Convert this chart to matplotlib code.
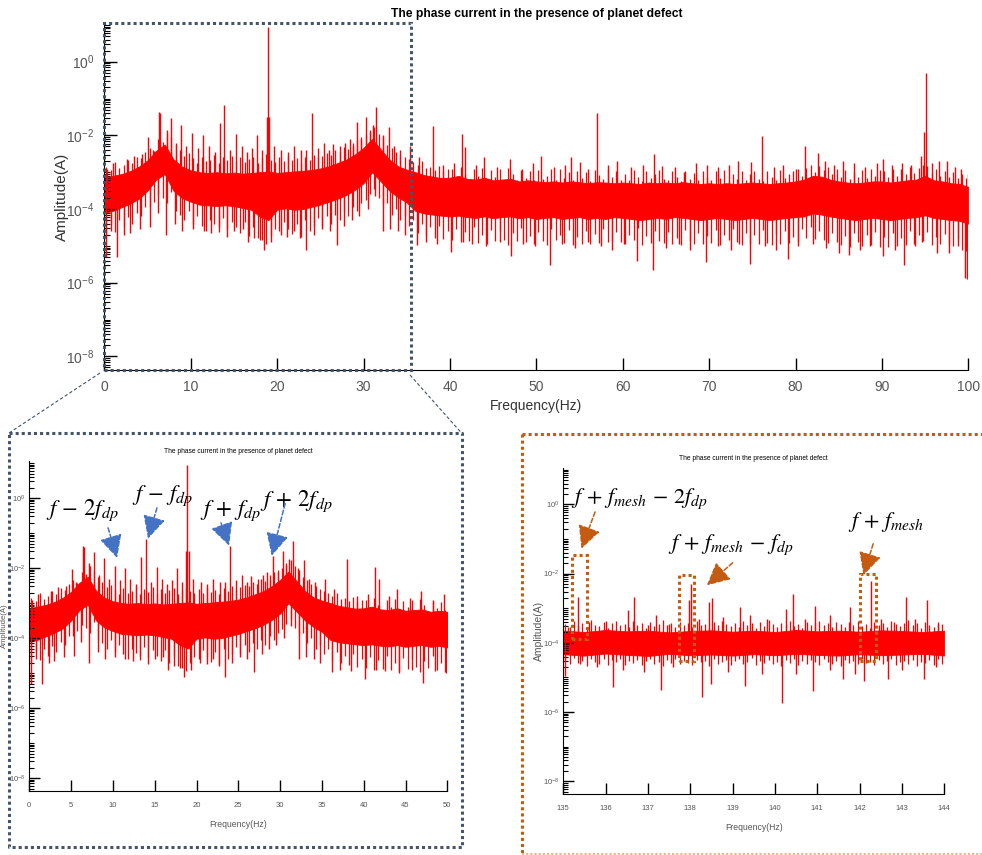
import numpy as np
import matplotlib.pyplot as plt
from matplotlib.patches import Rectangle
from matplotlib.lines import Line2D
from matplotlib.ticker import FixedLocator, LogLocator, NullFormatter, FuncFormatter

plt.rcParams['mathtext.fontset'] = 'stix'

SANS = ['Liberation Sans', 'DejaVu Sans']

# ---------------------------------------------------------------
# spectrum 0-100 Hz, values are log10(amplitude)
# dense core of the noise, one value per Hz
grid_f = np.arange(0, 101)
band_hi = [-3.15, -3.10, -3.05, -2.97, -2.85, -2.68, -2.42, -2.25, -2.65, -2.85,
           -2.95, -3.00, -3.02, -3.00, -3.03, -3.01, -3.04, -3.02, -3.00, -2.98,
           -3.02, -3.00, -2.98, -2.96, -2.94, -2.90, -2.84, -2.75, -2.66, -2.52,
           -2.34, -2.10, -2.38, -2.66, -2.84, -2.93, -3.00, -3.08, -3.12, -3.16,
           -3.15, -3.10, -3.18, -3.20, -3.15, -3.22, -3.20, -3.18, -3.25, -3.22,
           -3.25, -3.27, -3.25, -3.28, -3.25, -3.27, -3.30, -3.27, -3.28, -3.30,
           -3.28, -3.30, -3.32, -3.28, -3.30, -3.28, -3.30, -3.27, -3.30, -3.32,
           -3.30, -3.32, -3.30, -3.32, -3.30, -3.28, -3.30, -3.32, -3.30, -3.28,
           -3.25, -3.20, -3.10, -3.12, -3.20, -3.25, -3.28, -3.30, -3.28, -3.25,
           -3.25, -3.28, -3.25, -3.22, -3.20, -3.10, -3.22, -3.25, -3.30, -3.32,
           -3.40]
band_lo = [-4.10, -4.05, -3.95, -3.85, -3.72, -3.50, -3.20, -3.05, -3.50, -3.70,
           -3.80, -3.88, -3.90, -3.92, -3.90, -3.92, -3.97, -4.02, -4.20, -4.30,
           -4.02, -3.98, -4.02, -4.00, -3.94, -3.88, -3.80, -3.72, -3.62, -3.48,
           -3.30, -3.00, -3.25, -3.50, -3.68, -3.82, -4.05, -4.12, -4.15, -4.18,
           -4.20, -4.18, -4.22, -4.24, -4.20, -4.25, -4.22, -4.20, -4.25, -4.22,
           -4.27, -4.24, -4.22, -4.27, -4.24, -4.22, -4.27, -4.24, -4.27, -4.22,
           -4.24, -4.27, -4.30, -4.27, -4.24, -4.27, -4.22, -4.24, -4.27, -4.30,
           -4.27, -4.24, -4.27, -4.30, -4.27, -4.24, -4.27, -4.30, -4.27, -4.24,
           -4.22, -4.20, -4.12, -4.15, -4.20, -4.24, -4.27, -4.30, -4.27, -4.24,
           -4.27, -4.30, -4.27, -4.24, -4.22, -4.17, -4.24, -4.27, -4.30, -4.32,
           -4.40]
# max / min of the trace in 0.5 Hz bins (bin centres 0.25, 0.75, ...)
hair_f = np.arange(0.25, 100, 0.5)
hair_up = [-2.85, -2.95, -2.72, -2.88, -2.80, -2.66, -2.75, -2.58, -2.62, -2.45,
           -2.35, -2.42, -2.10, -2.18, -1.95, -2.05, -2.25, -2.40, -2.55, -2.48,
           -2.62, -2.75, -2.58, -2.70, -2.66, -2.52, -2.74, -2.60, -2.68, -2.55,
           -2.70, -2.60, -2.72, -2.64, -2.58, -2.75, -2.62, -2.50, -2.66, -2.72,
           -2.60, -2.70, -2.55, -2.68, -2.62, -2.74, -2.58, -2.66, -2.52, -2.60,
           -2.55, -2.48, -2.52, -2.40, -2.45, -2.32, -2.38, -2.20, -2.12, -2.05,
           -2.00, -1.85, -1.78, -1.95, -2.05, -2.25, -2.35, -2.45, -2.52, -2.60,
           -2.65, -2.72, -2.80, -2.70, -2.88, -2.85, -2.95, -2.82, -2.98, -2.90,
           -2.92, -3.15, -2.85, -3.05, -3.20, -2.90, -3.10, -2.88, -3.18, -2.95,
           -3.12, -2.92, -3.20, -2.88, -3.06, -3.22, -2.95, -3.15, -2.98, -3.20,
           -2.95, -3.18, -3.10, -2.90, -3.22, -2.92, -3.15, -3.00, -3.20, -2.96,
           -3.16, -3.00, -3.24, -2.94, -3.08, -3.18, -2.92, -3.14, -2.98, -3.22,
           -3.04, -3.20, -2.95, -3.12, -3.24, -2.98, -3.16, -3.06, -2.94, -3.18,
           -3.20, -2.98, -3.14, -3.24, -2.96, -3.18, -3.02, -3.22, -2.98, -3.12,
           -3.22, -2.98, -3.16, -2.95, -3.24, -3.04, -3.18, -2.96, -3.22, -3.06,
           -2.98, -3.18, -3.24, -2.96, -3.12, -3.22, -2.94, -3.16, -3.04, -2.96,
           -2.92, -3.10, -2.88, -2.80, -3.00, -2.82, -2.95, -2.86, -3.05, -2.90,
           -3.12, -2.95, -3.18, -3.00, -3.14, -2.94, -3.16, -2.92, -3.10, -2.94,
           -2.98, -3.14, -2.92, -3.10, -2.90, -3.05, -2.85, -3.02, -2.88, -2.80,
           -2.82, -3.02, -2.90, -3.10, -2.96, -3.12, -3.00, -3.15, -3.05, -3.15]
hair_dn = [-4.75, -4.40, -4.62, -4.30, -4.50, -4.22, -4.40, -4.10, -4.20, -3.95,
           -3.95, -3.80, -3.62, -3.70, -3.85, -3.55, -4.05, -4.15, -4.30, -4.05,
           -4.40, -4.20, -4.45, -4.60, -4.30, -4.42, -4.62, -4.25, -4.55, -4.35,
           -4.50, -4.65, -4.35, -4.72, -4.50, -4.80, -4.85, -4.95, -4.70, -4.55,
           -4.60, -4.35, -4.55, -4.68, -4.40, -4.75, -4.30, -4.60, -4.45, -4.25,
           -4.45, -4.20, -4.40, -4.15, -4.30, -4.05, -4.20, -3.95, -4.05, -3.85,
           -3.75, -3.60, -3.45, -3.70, -3.90, -3.85, -4.15, -4.00, -4.30, -4.20,
           -4.45, -4.30, -4.65, -4.40, -4.72, -4.50, -4.78, -4.45, -4.82, -4.60,
           -4.85, -4.55, -4.90, -4.62, -4.88, -4.50, -4.92, -4.70, -4.95, -4.58,
           -4.88, -4.60, -4.84, -4.98, -4.66, -4.86, -4.52, -4.90, -4.72, -4.96,
           -4.62, -4.86, -4.98, -4.55, -4.84, -4.70, -4.93, -4.58, -4.99, -4.75,
           -4.94, -4.60, -4.96, -4.68, -4.92, -4.55, -4.90, -4.86, -4.62, -4.89,
           -4.96, -4.70, -4.85, -4.52, -4.99, -4.74, -4.92, -4.60, -4.86, -4.93,
           -4.62, -4.95, -4.78, -4.98, -4.56, -4.86, -4.96, -4.66, -4.94, -4.72,
           -4.93, -4.58, -4.97, -4.71, -4.85, -4.54, -4.90, -4.98, -4.64, -4.94,
           -4.70, -4.96, -4.56, -4.93, -4.99, -4.69, -4.95, -4.60, -4.92, -4.77,
           -4.90, -4.54, -4.80, -4.50, -4.82, -4.60, -4.85, -4.92, -4.66, -4.90,
           -4.98, -4.72, -5.02, -4.65, -4.90, -5.00, -4.70, -4.98, -4.62, -5.02,
           -4.76, -5.02, -4.64, -5.00, -4.80, -4.98, -4.60, -4.95, -4.70, -4.88,
           -4.62, -4.98, -4.75, -4.96, -4.68, -4.95, -5.00, -4.82, -5.10, -5.15]
# isolated spikes and dips
peak_f = [0.3, 1.0, 2.6, 3.4, 4.4, 5.06, 5.6, 6.37, 6.49, 7.2, 7.72, 8.3, 8.88, 9.5,
          10.2, 10.8, 11.4, 12.1, 12.8, 13.4, 13.9, 14.6, 15.25, 15.9, 16.5, 17.1,
          17.7, 18.3, 18.8, 18.9, 19.1, 19.6, 20.5, 21.3, 22.0, 22.8, 23.4, 24.0,
          24.7, 25.4, 26.0, 26.5, 27.3, 27.9, 28.4, 28.8, 29.2, 29.7, 30.3, 30.7,
          31.1, 31.5, 32.2, 32.9, 33.5, 34.2, 35.4, 36.4,
          38.0, 39.2, 40.5, 41.4, 41.8, 43.0, 44.0, 45.5, 46.9, 48.3, 49.6, 50.5,
          52.0, 53.3, 54.0, 55.1, 56.0, 57.0, 58.3, 59.3, 61.0, 62.4, 63.6, 64.6,
          66.0, 67.1, 68.5, 69.7, 71.0, 72.3, 73.3, 74.8, 76.1, 77.5, 78.6, 80.0,
          81.1, 82.6, 83.4, 84.5, 85.5, 86.8, 88.0, 89.4, 90.1, 91.2, 92.3, 93.4,
          94.5, 94.9, 95.1, 95.8, 96.6, 97.5, 98.5, 99.2, 100.0]
peak_a = [-2.90, -2.75, -2.65, -2.55, -2.50, -2.04, -2.40, -1.37, -1.39, -1.85, -1.53,
          -2.20, -1.72, -2.30, -1.94, -2.35, -2.00, -2.30, -2.45, -1.67, -1.18, -2.40,
          -1.96, -2.30, -2.45, -2.35, -1.99, -2.40, -1.50, 0.95, -1.50, -2.30, -2.40,
          -2.45, -2.30, -2.40, -2.40, -1.38, -2.35, -2.20, -2.40, -2.23, -2.30, -2.20,
          -2.10, -2.30, -1.65, -2.10, -1.50, -1.90, -1.73, -1.23, -2.00, -1.76, -2.30,
          -2.40, -2.30, -2.60,
          -1.75, -2.80, -2.75, -1.96, -2.32, -2.80, -2.60, -2.85, -2.65, -2.90, -2.75,
          -2.56, -2.85, -2.80, -2.60, -2.72, -2.90, -1.38, -2.80, -2.70, -2.85, -2.80,
          -2.50, -2.83, -2.85, -3.00, -2.75, -2.80, -2.85, -2.80, -2.70, -2.72, -2.02,
          -2.85, -2.80, -2.90, -2.29, -2.49, -2.70, -2.80, -2.70, -2.75, -2.85, -2.76,
          -2.63, -2.80, -2.75, -2.80, -2.55, -1.90, -0.31, -2.75, -2.70, -2.70, -2.85,
          -2.90, -3.04]
dip_f = [0.2, 0.8, 1.5, 2.3, 3.0, 4.1, 5.3, 6.2, 7.1, 8.2, 9.0, 10.3, 11.5, 12.4, 13.3,
         14.2, 15.0, 16.0, 16.6, 17.3, 18.0, 18.5, 19.3, 20.4, 21.2, 22.0, 22.7, 23.4,
         24.3, 25.2, 26.1, 26.9, 27.8, 28.7, 29.5, 30.5, 31.3, 32.3, 33.1, 34.0, 34.8,
         36.2, 37.2, 38.5, 40.1, 41.5, 42.6, 44.2, 45.8, 47.1, 48.5, 49.8, 51.6, 53.0,
         54.5, 56.0, 57.5, 58.8, 60.2, 61.7, 63.5, 65.0, 66.5, 67.8, 69.6, 71.0, 72.5,
         73.5, 74.7, 76.5, 77.8, 79.1, 80.3, 82.0, 83.5, 85.0, 86.2, 87.5, 88.6, 90.1,
         91.5, 92.6, 93.8, 94.6, 96.4, 97.8, 98.8, 99.6, 99.9]
dip_a = [-5.30, -4.60, -5.30, -4.70, -4.65, -4.55, -4.50, -4.10, -4.70, -4.40, -4.60,
         -4.55, -4.60, -4.65, -4.50, -4.75, -4.60, -4.55, -4.90, -4.80, -4.85, -5.12,
         -4.90, -4.70, -4.75, -4.60, -4.80, -5.10, -4.70, -4.55, -4.60, -4.97, -4.45,
         -4.30, -4.20, -4.00, -3.65, -4.60, -4.55, -4.60, -4.70,
         -4.97, -4.90, -4.95, -5.18, -4.90, -4.95, -5.00, -4.90, -5.28, -4.95, -5.00,
         -5.52, -4.95, -5.05, -4.90, -5.00, -5.10, -4.95, -5.41, -5.66, -5.05, -4.95,
         -5.10, -5.43, -5.00, -5.10, -4.95, -5.50, -5.00, -5.10, -5.36, -5.00, -4.95,
         -5.05, -5.20, -5.25, -5.10, -5.00, -5.28, -5.10, -5.52, -5.00, -4.90, -5.20,
         -5.20, -5.00, -5.88, -5.90]

# spectrum 135-144 Hz
zgrid_f = np.arange(135, 144.01, 0.5)
zband_hi = [-3.65, -3.69, -3.63, -3.67, -3.65, -3.70, -3.66, -3.64, -3.68, -3.65,
            -3.69, -3.63, -3.67, -3.65, -3.68, -3.64, -3.66, -3.69, -3.65]
zband_lo = [-4.33, -4.37, -4.31, -4.35, -4.38, -4.32, -4.36, -4.34, -4.37, -4.33,
            -4.36, -4.32, -4.35, -4.37, -4.33, -4.36, -4.34, -4.32, -4.37]
zhair_f = np.arange(135.05, 144, 0.1)
zhair_up = [-3.45, -3.55, -3.38, -3.50, -3.42, -3.58, -3.35, -3.48, -3.52, -3.40,
            -3.56, -3.44, -3.36, -3.50, -3.46, -3.54, -3.38, -3.48, -3.42, -3.57,
            -3.40, -3.52, -3.46, -3.34, -3.50, -3.44, -3.55, -3.39, -3.48, -3.42,
            -3.53, -3.37, -3.49, -3.45, -3.56, -3.41, -3.50, -3.36, -3.47, -3.52,
            -3.43, -3.55, -3.38, -3.49, -3.44, -3.57, -3.40, -3.51, -3.35, -3.46,
            -3.54, -3.42, -3.48, -3.38, -3.52, -3.45, -3.56, -3.40, -3.49, -3.43,
            -3.36, -3.50, -3.44, -3.55, -3.39, -3.47, -3.53, -3.41, -3.48, -3.37,
            -3.51, -3.45, -3.56, -3.40, -3.49, -3.43, -3.54, -3.38, -3.47, -3.52,
            -3.42, -3.35, -3.50, -3.44, -3.56, -3.40, -3.48, -3.53, -3.39, -3.46]
zhair_dn = [-4.50, -4.62, -4.45, -4.58, -4.52, -4.66, -4.48, -4.55, -4.60, -4.46,
            -4.64, -4.51, -4.57, -4.47, -4.63, -4.53, -4.59, -4.49, -4.65, -4.54,
            -4.48, -4.61, -4.56, -4.67, -4.50, -4.58, -4.46, -4.62, -4.53, -4.59,
            -4.64, -4.49, -4.57, -4.52, -4.66, -4.47, -4.60, -4.55, -4.50, -4.63,
            -4.54, -4.48, -4.61, -4.57, -4.45, -4.65, -4.52, -4.59, -4.49, -4.62,
            -4.56, -4.67, -4.51, -4.58, -4.47, -4.63, -4.54, -4.60, -4.50, -4.57,
            -4.64, -4.48, -4.55, -4.61, -4.52, -4.66, -4.49, -4.58, -4.53, -4.62,
            -4.47, -4.59, -4.56, -4.65, -4.50, -4.60, -4.54, -4.48, -4.63, -4.57,
            -4.52, -4.61, -4.49, -4.66, -4.55, -4.58, -4.51, -4.64, -4.47, -4.60]
zpeak_f = [135.1, 135.34, 135.6, 136.0, 136.54, 136.67, 137.0, 137.2, 137.5, 137.98,
           138.02, 138.2, 138.44, 138.52, 138.77, 139.17, 139.4, 139.8, 140.26, 140.42,
           140.7, 140.94, 141.3, 141.77, 142.27, 142.5, 142.8, 143.09, 143.3, 143.6,
           143.85]
zpeak_a = [-3.55, -2.68, -3.40, -3.36, -3.04, -2.68, -3.50, -3.20, -3.45, -2.77,
           -2.31, -3.30, -2.82, -2.72, -3.25, -2.97, -3.20, -3.30, -3.01, -2.60,
           -3.30, -2.94, -3.20, -2.97, -2.22, -3.30, -3.40, -2.69, -3.30, -2.76,
           -3.45]
zdip_f = [135.05, 135.4, 135.8, 136.17, 136.4, 136.9, 137.3, 137.6, 138.27, 138.5,
          138.9, 139.3, 139.7, 140.16, 140.5, 140.9, 141.3, 141.6, 141.9, 142.1,
          142.66, 143.0, 143.52, 143.8]
zdip_a = [-4.95, -4.60, -4.70, -5.28, -4.80, -4.85, -5.37, -4.70, -5.57, -5.20,
          -4.85, -5.25, -4.90, -5.73, -4.90, -5.40, -4.80, -5.05, -4.90, -5.10,
          -5.05, -4.80, -5.05, -4.70]

title = 'The phase current in the presence of planet defect'
ylims = (10 ** -8.37, 10 ** 1.05)
red = '#FF0000'
slate = '#44546A'
orange = '#C55A11'
blue = '#4472C4'

W, H = 982, 855
fig = plt.figure(figsize=(W / 100, H / 100), dpi=100)


def px_axes(x0, y0, x1, y1):
    return fig.add_axes([x0 / W, 1 - y1 / H, (x1 - x0) / W, (y1 - y0) / H])


def draw_spectrum(ax, gf, hi, lo, hf, hu, hd, pf, pa, df, da):
    hi = np.array(hi)
    lo = np.array(lo)
    step = gf[1] - gf[0]
    ax.fill_between(gf, 10 ** lo, 10 ** hi, color=red, lw=0.6, edgecolor=red)
    ax.vlines(hf, 10 ** np.array(hd), 10 ** np.array(hu), color=red, lw=0.9)
    mid = (hi + lo) / 2
    i = np.clip(np.rint((np.array(pf) - gf[0]) / step).astype(int), 0, len(gf) - 1)
    ax.vlines(pf, 10 ** mid[i], 10 ** np.array(pa), color=red, lw=1.0)
    i = np.clip(np.rint((np.array(df) - gf[0]) / step).astype(int), 0, len(gf) - 1)
    ax.vlines(df, 10 ** np.array(da), 10 ** mid[i], color=red, lw=1.0)


def style(ax, xticks, fs, tick_len, xpad, ypad):
    ax.set_yscale('log')
    ax.set_ylim(*ylims)
    ax.set_xlim(xticks[0], xticks[-1])
    ax.set_xticks(xticks)
    ax.yaxis.set_major_locator(FixedLocator([1e-8, 1e-6, 1e-4, 1e-2, 1e0]))
    ax.yaxis.set_minor_locator(LogLocator(base=10, subs=np.arange(1, 10), numticks=30))
    ax.yaxis.set_minor_formatter(NullFormatter())
    ax.yaxis.set_major_formatter(FuncFormatter(
        lambda v, p: r'$\mathregular{10^{%d}}$' % round(np.log10(v))))
    for s in ['top', 'right']:
        ax.spines[s].set_visible(False)
    ax.tick_params(which='major', direction='in', length=tick_len, width=1,
                   labelsize=fs, labelcolor='#555555')
    ax.tick_params(axis='x', pad=xpad)
    ax.tick_params(axis='y', pad=ypad)
    ax.tick_params(which='minor', direction='in', length=tick_len * 0.45, width=0.8)
    for lab in ax.get_xticklabels() + ax.get_yticklabels():
        lab.set_family(SANS)


def arrow(ax, p0, p1, color):
    ax.annotate('', xy=(p1[0], 10 ** p1[1]), xytext=(p0[0], 10 ** p0[1]),
                arrowprops=dict(arrowstyle='-|>,head_length=1.4,head_width=0.7',
                                mutation_scale=10, color=color, lw=1.1, ls=(0, (3, 1.5)),
                                shrinkA=0, shrinkB=0))


# ---------------- top panel ----------------
ax = px_axes(104.3, 23, 968.3, 370)
draw_spectrum(ax, grid_f, band_hi, band_lo, hair_f, hair_up, hair_dn,
              peak_f, peak_a, dip_f, dip_a)
style(ax, list(range(0, 101, 10)), 10, 9, 7, 7)
ax.set_title(title, fontsize=8.7, fontweight='bold', family=SANS, pad=4)
ax.set_xlabel('Frequency(Hz)', fontsize=10, family=SANS, color='#333333', labelpad=4)
ax.set_ylabel('Amplitude(A)', fontsize=11, family=SANS, color='#333333')
ax.yaxis.set_label_coords(-0.041, 0.5)
ax.add_patch(Rectangle((0, ylims[0]), 35.5, ylims[1] - ylims[0], fill=False,
                       ec=slate, ls=(0, (1, 1)), lw=2.2, clip_on=False, zorder=5))

# ---------------- bottom left zoom ----------------
axl = px_axes(29.3, 461.3, 447.3, 791)
draw_spectrum(axl, grid_f, band_hi, band_lo, hair_f, hair_up, hair_dn,
              peak_f, peak_a, dip_f, dip_a)
style(axl, list(range(0, 51, 5)), 5.5, 8, 8, 3)
axl.set_title(title, fontsize=4.8, family=SANS, pad=6)
axl.set_xlabel('Frequency(Hz)', fontsize=6.2, family=SANS, color='#555555', labelpad=8)
axl.set_ylabel('Amplitude(A)', fontsize=5.5, family=SANS, color='#555555')
axl.yaxis.set_label_coords(-0.05, 0.5)

labels_l = [(6.4, -0.36, r'$f\,-\,2f_{dp}$'), (16.0, 0.07, r'$f\,-\,f_{dp}$'),
            (24.1, -0.36, r'$f\,+\,f_{dp}$'), (32.0, -0.08, r'$f\,+\,2f_{dp}$')]
for x, y, s in labels_l:
    axl.text(x, 10 ** y, s, fontsize=16.5, ha='center', va='center')
arrows_l = [((9.42, -0.85), (10.5, -1.71)), ((15.27, -0.28), (14.2, -1.16)),
            ((22.93, -0.71), (23.9, -1.36)), ((30.6, -0.16), (29.0, -1.65))]
for p0, p1 in arrows_l:
    arrow(axl, p0, p1, blue)

# ---------------- bottom right zoom ----------------
axr = px_axes(563.3, 468, 944.3, 794)
draw_spectrum(axr, zgrid_f, zband_hi, zband_lo, zhair_f, zhair_up, zhair_dn,
              zpeak_f, zpeak_a, zdip_f, zdip_a)
style(axr, list(range(135, 145)), 5.5, 8, 8, 3)
axr.set_title(title, fontsize=4.8, family=SANS, pad=6)
axr.set_xlabel('Frequency(Hz)', fontsize=6.2, family=SANS, color='#555555', labelpad=8)
axr.set_ylabel('Amplitude(A)', fontsize=7.5, family=SANS, color='#555555')
axr.yaxis.set_label_coords(-0.05, 0.5)

brackets = [(135.2, 135.57, -3.88, -1.46), (137.73, 138.09, -4.54, -2.05),
            (142.01, 142.38, -4.54, -2.0)]
for x0, x1, y0, y1 in brackets:
    axr.add_patch(Rectangle((x0, 10 ** y0), x1 - x0, 10 ** y1 - 10 ** y0, fill=False,
                            ec=orange, ls=(0, (1, 1)), lw=2.2, zorder=4))
labels_r = [(136.81, 0.16, r'$f\,+\,f_{mesh}\,-\,2f_{dp}$'),
            (138.96, -1.17, r'$f\,+\,f_{mesh}\,-\,f_{dp}$'),
            (142.62, -0.5, r'$f\,+\,f_{mesh}$')]
for x, y, s in labels_r:
    axr.text(x, 10 ** y, s, fontsize=16, ha='center', va='center')
arrows_r = [((135.75, -0.22), (135.43, -1.28)), ((139.0, -1.69), (138.39, -2.34)),
            ((142.32, -1.14), (142.09, -2.05))]
for p0, p1 in arrows_r:
    arrow(axr, p0, p1, orange)


# ---------------- frames and connectors (figure pixels) ----------------
def fig_line(xs, ys, **kw):
    fig.add_artist(Line2D([x / W for x in xs], [1 - y / H for y in ys],
                          transform=fig.transFigure, **kw))


dot = (0, (1, 1))
fig_line([9, 461.5, 461.5, 9, 9], [433, 433, 847, 847, 433], color=slate, lw=2.2, ls=dot)
fig_line([521.5, 985], [434, 434], color=orange, lw=2.2, ls=dot)
fig_line([521.5, 521.5], [434, 854], color=orange, lw=2.2, ls=dot)
fig_line([521.5, 985], [853.5, 853.5], color='#F4B183', lw=1.5, ls=dot)
fig_line([100, 9], [373, 433], color=slate, lw=0.8, ls=(0, (3, 2)))
fig_line([410, 461.5], [375, 433], color=slate, lw=0.8, ls=(0, (3, 2)))

fig.savefig('out.png', dpi=100)
